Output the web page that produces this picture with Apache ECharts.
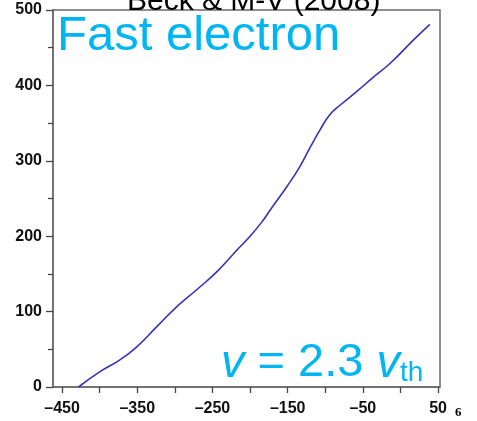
<!DOCTYPE html>
<html>
<head>
<meta charset="utf-8">
<script src="https://cdn.jsdelivr.net/npm/echarts@6/dist/echarts.min.js"></script>
<style>
  html, body { margin: 0; padding: 0; background: #fff; }
  #chart { width: 477px; height: 421px; }
</style>
</head>
<body>
<div id="chart"></div>
<script>
// Trajectory of a fast electron: horizontal position vs. height
const posX = [-428, -400, -373, -351, -324, -298, -271, -244, -218, -200, -185, -173, -151, -134, -120, -107, -94, -80, -58, -36, -14, 17, 39];
const posY = [0, 20, 36, 53, 80, 106, 129, 153, 181, 200, 218, 235, 266, 292, 318, 341, 361, 374, 392, 411, 429, 460, 481];

const xTickValues = [-450, -400, -350, -300, -250, -200, -150, -100, -50, 0, 50];
const xLabelValues = [-450, -350, -250, -150, -50, 50];

const titleText = 'Beck & M-V (2008)';
const panelText = 'Fast electron';
const pageNumber = '6';

const chart = echarts.init(document.getElementById('chart'), null, { renderer: 'canvas' });

const labelFont = { color: '#111', fontWeight: 'bold', fontSize: 16, fontFamily: 'Liberation Sans, Arial, sans-serif' };
const cyan = '#00b6f2';

chart.setOption({
  animation: false,
  backgroundColor: '#ffffff',
  grid: {
    left: 53, top: 10, right: 37, bottom: 34,
    show: true, borderColor: '#6a6a6a', borderWidth: 1.5, backgroundColor: 'transparent'
  },
  xAxis: {
    type: 'value',
    min: -462, max: 52.5,
    axisLine: { show: true, onZero: false, lineStyle: { color: '#6a6a6a', width: 1.5 } },
    axisTick: { show: true, inside: false, length: 6, customValues: xTickValues, lineStyle: { color: '#444', width: 1.3 } },
    axisLabel: Object.assign({ margin: 14, customValues: xLabelValues, formatter: v => String(v).replace('-', '\u2013') }, labelFont),
    splitLine: { show: false }
  },
  yAxis: {
    type: 'value',
    min: 0, max: 500, interval: 100,
    axisLine: { show: true, onZero: false, lineStyle: { color: '#6a6a6a', width: 1.5 } },
    axisTick: { show: true, inside: false, length: 7, lineStyle: { color: '#444', width: 1.3 } },
    minorTick: { show: true, splitNumber: 2, length: 5, lineStyle: { color: '#444', width: 1.3 } },
    axisLabel: Object.assign({ margin: 11, padding: [4, 0, 0, 0] }, labelFont),
    splitLine: { show: false }
  },
  series: [{
    type: 'line',
    data: posX.map((x, i) => [x, posY[i]]),
    smooth: 0.5,
    symbol: 'none',
    lineStyle: { color: '#3a30b8', width: 1.6 }
  }],
  graphic: [
    {
      type: 'text', left: 127, top: -13,
      style: { text: titleText, fill: '#000', font: '30px "Liberation Sans", Arial, sans-serif' },
      z: 100
    },
    {
      type: 'text', left: 57, top: 12,
      style: { text: panelText, fill: cyan, font: '49px "Liberation Sans", Arial, sans-serif' },
      z: 100
    },
    {
      type: 'text', left: 221, top: 340,
      style: {
        text: '{v|v}{n| = 2.3 }{v|v}{s|th}',
        fill: cyan,
        rich: {
          v: { fontSize: 47, fontStyle: 'italic', fontFamily: 'Liberation Sans, Arial, sans-serif', fill: cyan },
          n: { fontSize: 47, fontFamily: 'Liberation Sans, Arial, sans-serif', fill: cyan },
          s: { fontSize: 28, fontFamily: 'Liberation Sans, Arial, sans-serif', fill: cyan, padding: [19, 0, 0, 0] }
        }
      },
      z: 100
    },
    {
      type: 'text', left: 455, top: 406,
      style: { text: pageNumber, fill: '#000', font: 'bold 13px "Liberation Serif", "Times New Roman", serif' },
      z: 100
    }
  ]
});
</script>
</body>
</html>
